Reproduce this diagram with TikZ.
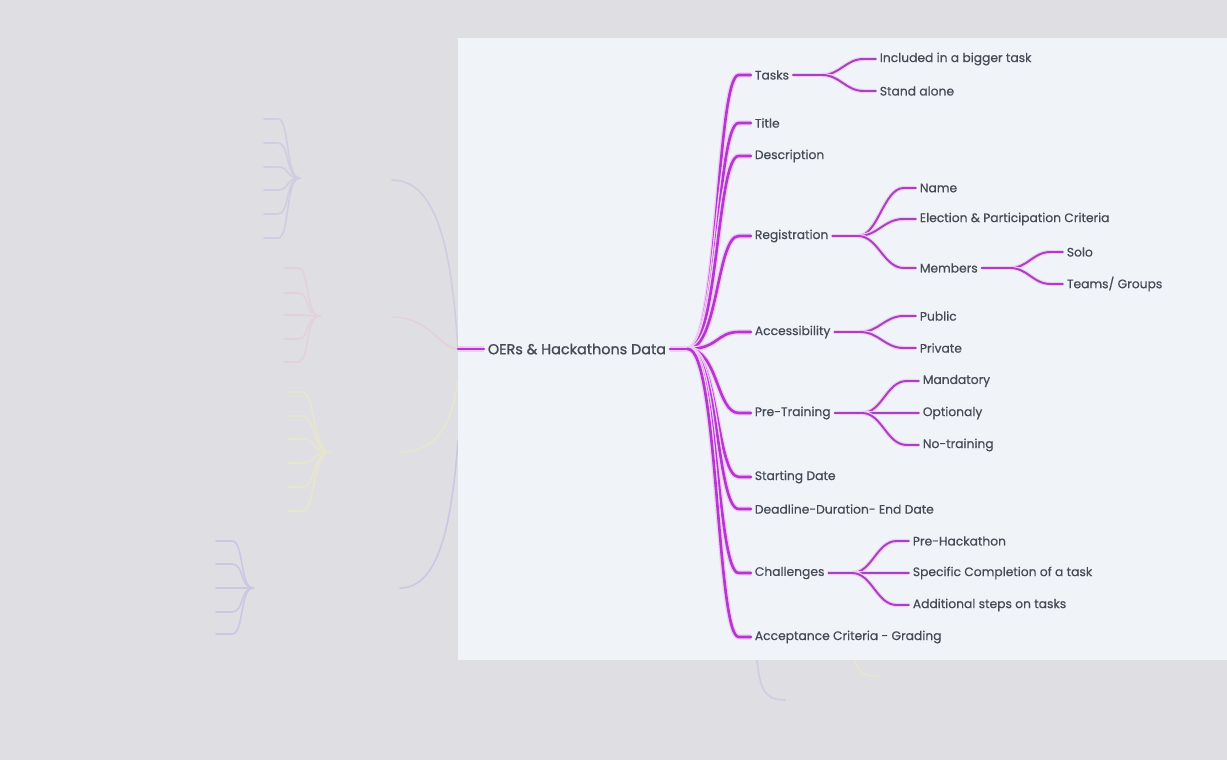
\documentclass[tikz,border=0pt]{standalone}
\usepackage{fontspec}
\setmainfont{Poppins}
\newfontfamily\mapfont{Poppins}[FakeBold=0.5]
\newfontfamily\rootfont{Poppins}[FakeBold=1.1]
\usetikzlibrary{positioning}
\definecolor{bggray}{HTML}{DFDEE3}
\definecolor{panel}{HTML}{F0F3F7}
\definecolor{darktext}{HTML}{454A55}
\definecolor{branchmain}{HTML}{B238D0}
\definecolor{branchsub}{HTML}{A444BC}
\definecolor{glow}{HTML}{F5CCF7}
\definecolor{fadelav}{HTML}{CFCDE0}
\definecolor{fadepink}{HTML}{E3D3D8}
\definecolor{fadeyellow}{HTML}{E6E6CF}
\definecolor{fadepurple}{HTML}{CDC6E2}

\begin{document}
\begin{tikzpicture}[x=0.02cm, y=-0.02cm,
    topic/.style={anchor=west, inner xsep=2pt, inner ysep=1pt, text=darktext, font=\mapfont\fontsize{7}{8}\selectfont},
    root/.style={topic, font=\rootfont\fontsize{8.2}{10}\selectfont},
    mainbranch/.style={draw=branchmain, line width=1.5pt, line cap=round, preaction={draw=glow, line width=3pt}},
    subbranch/.style={draw=branchsub, line width=1.1pt, line cap=round, preaction={draw=glow, line width=2.4pt}},
    faded/.style={line width=0.9pt, line cap=round}]
  \fill[bggray] (0,0) rectangle (1227,760);
  % faded map behind the panel
  \coordinate (dtJ) at (300,178);
  \foreach \y in {119,143,167,190,214,238}
    \draw[faded, fadelav] (dtJ) .. controls (285,178) and (290,\y) .. (278,\y) -- (264,\y);
  \draw[faded, fadelav] (392,180) .. controls (440,180) and (452,260) .. (458,349);
  \coordinate (intJ) at (320,316);
  \foreach \y in {268,293,315,339,362}
    \draw[faded, fadepink] (intJ) .. controls (305,316) and (310,\y) .. (298,\y) -- (284,\y);
  \draw[faded, fadepink] (392,317) .. controls (430,317) and (440,349) .. (458,349);
  \coordinate (svcJ) at (330,452);
  \foreach \y in {392,416,439,463,487,511}
    \draw[faded, fadeyellow] (svcJ) .. controls (312,452) and (316,\y) .. (302,\y) -- (288,\y);
  \draw[faded, fadeyellow] (400,452) .. controls (440,452) and (452,420) .. (458,380);
  \coordinate (resJ) at (253,588);
  \foreach \y in {541,564,588,612,634}
    \draw[faded, fadepurple] (resJ) .. controls (240,588) and (244,\y) .. (232,\y) -- (216,\y);
  \draw[faded, fadepurple] (400,588) .. controls (440,588) and (452,520) .. (458,440);
  \draw[faded, fadelav] (757,660) .. controls (760,690) and (765,700) .. (785,700);
  \draw[faded, fadeyellow] (855,660) .. controls (858,672) and (862,676) .. (880,676);

  \fill[panel] (458,38) rectangle (1227,660);

  \coordinate (inlet) at (458,349);
  \node[root] (oer) at (484,349) {OERs \& Hackathons Data};
  \coordinate (rootJ) at (688,349);
  \draw[mainbranch] (inlet) -- (oer.west);
  \draw[mainbranch] (oer.east) -- (rootJ);

  \node[topic] (tasks) at (751,75) {Tasks};
  \node[topic] (title) at (751,123) {Title};
  \node[topic] (descr) at (751,156) {Description};
  \node[topic] (regis) at (751,236) {Registration};
  \node[topic] (access) at (751,332) {Accessibility};
  \node[topic] (pretrain) at (751,413) {Pre-Training};
  \node[topic] (start) at (751,477) {Starting Date};
  \node[topic] (deadline) at (751,509) {Deadline-Duration- End Date};
  \node[topic] (challenge) at (751,573) {Challenges};
  \node[topic] (accept) at (751,637) {Acceptance Criteria - Grading};
  \foreach \n in {tasks,title,descr,regis,access,pretrain,start,deadline,challenge,accept}
    \draw[mainbranch] (rootJ) .. controls +(30,0) and +(-22,0) .. ([xshift=-7pt]\n.west) -- (\n.west);

  \coordinate (tasksJ) at (822,75);
  \node[topic] (incl) at (876,59) {Included in a bigger task};
  \node[topic] (alone) at (876,91) {Stand alone};
  \draw[subbranch] (tasks.east) -- (tasksJ);
  \foreach \n in {incl,alone}
    \draw[subbranch] (tasksJ) .. controls +(18,0) and +(-18,0) .. ([xshift=-7pt]\n.west) -- (\n.west);

  \coordinate (regisJ) at (858,236);
  \node[topic] (name) at (916,188) {Name};
  \node[topic] (elect) at (916,219) {Election \& Participation Criteria};
  \node[topic] (members) at (916,268) {Members};
  \draw[subbranch] (regis.east) -- (regisJ);
  \foreach \n in {name,elect,members}
    \draw[subbranch] (regisJ) .. controls +(20,0) and +(-20,0) .. ([xshift=-7pt]\n.west) -- (\n.west);

  \coordinate (membJ) at (1010,268);
  \node[topic] (solo) at (1063,252) {Solo};
  \node[topic] (teams) at (1063,284) {Teams/ Groups};
  \draw[subbranch] (members.east) -- (membJ);
  \foreach \n in {solo,teams}
    \draw[subbranch] (membJ) .. controls +(18,0) and +(-18,0) .. ([xshift=-7pt]\n.west) -- (\n.west);

  \coordinate (accessJ) at (860,332);
  \node[topic] (public) at (916,316) {Public};
  \node[topic] (private) at (916,348) {Private};
  \draw[subbranch] (access.east) -- (accessJ);
  \foreach \n in {public,private}
    \draw[subbranch] (accessJ) .. controls +(19,0) and +(-19,0) .. ([xshift=-7pt]\n.west) -- (\n.west);

  \coordinate (preJ) at (862,413);
  \node[topic] (mand) at (919,381) {Mandatory};
  \node[topic] (opt) at (919,413) {Optionaly};
  \node[topic] (notrain) at (919,445) {No-training};
  \draw[subbranch] (pretrain.east) -- (preJ);
  \foreach \n in {mand,opt,notrain}
    \draw[subbranch] (preJ) .. controls +(20,0) and +(-20,0) .. ([xshift=-7pt]\n.west) -- (\n.west);

  \coordinate (chalJ) at (852,573);
  \node[topic] (prehack) at (909,541) {Pre-Hackathon};
  \node[topic] (specific) at (909,573) {Specific Completion of a task};
  \node[topic] (addl) at (909,605) {Additional steps on tasks};
  \draw[subbranch] (challenge.east) -- (chalJ);
  \foreach \n in {prehack,specific,addl}
    \draw[subbranch] (chalJ) .. controls +(20,0) and +(-20,0) .. ([xshift=-7pt]\n.west) -- (\n.west);
\end{tikzpicture}
\end{document}
